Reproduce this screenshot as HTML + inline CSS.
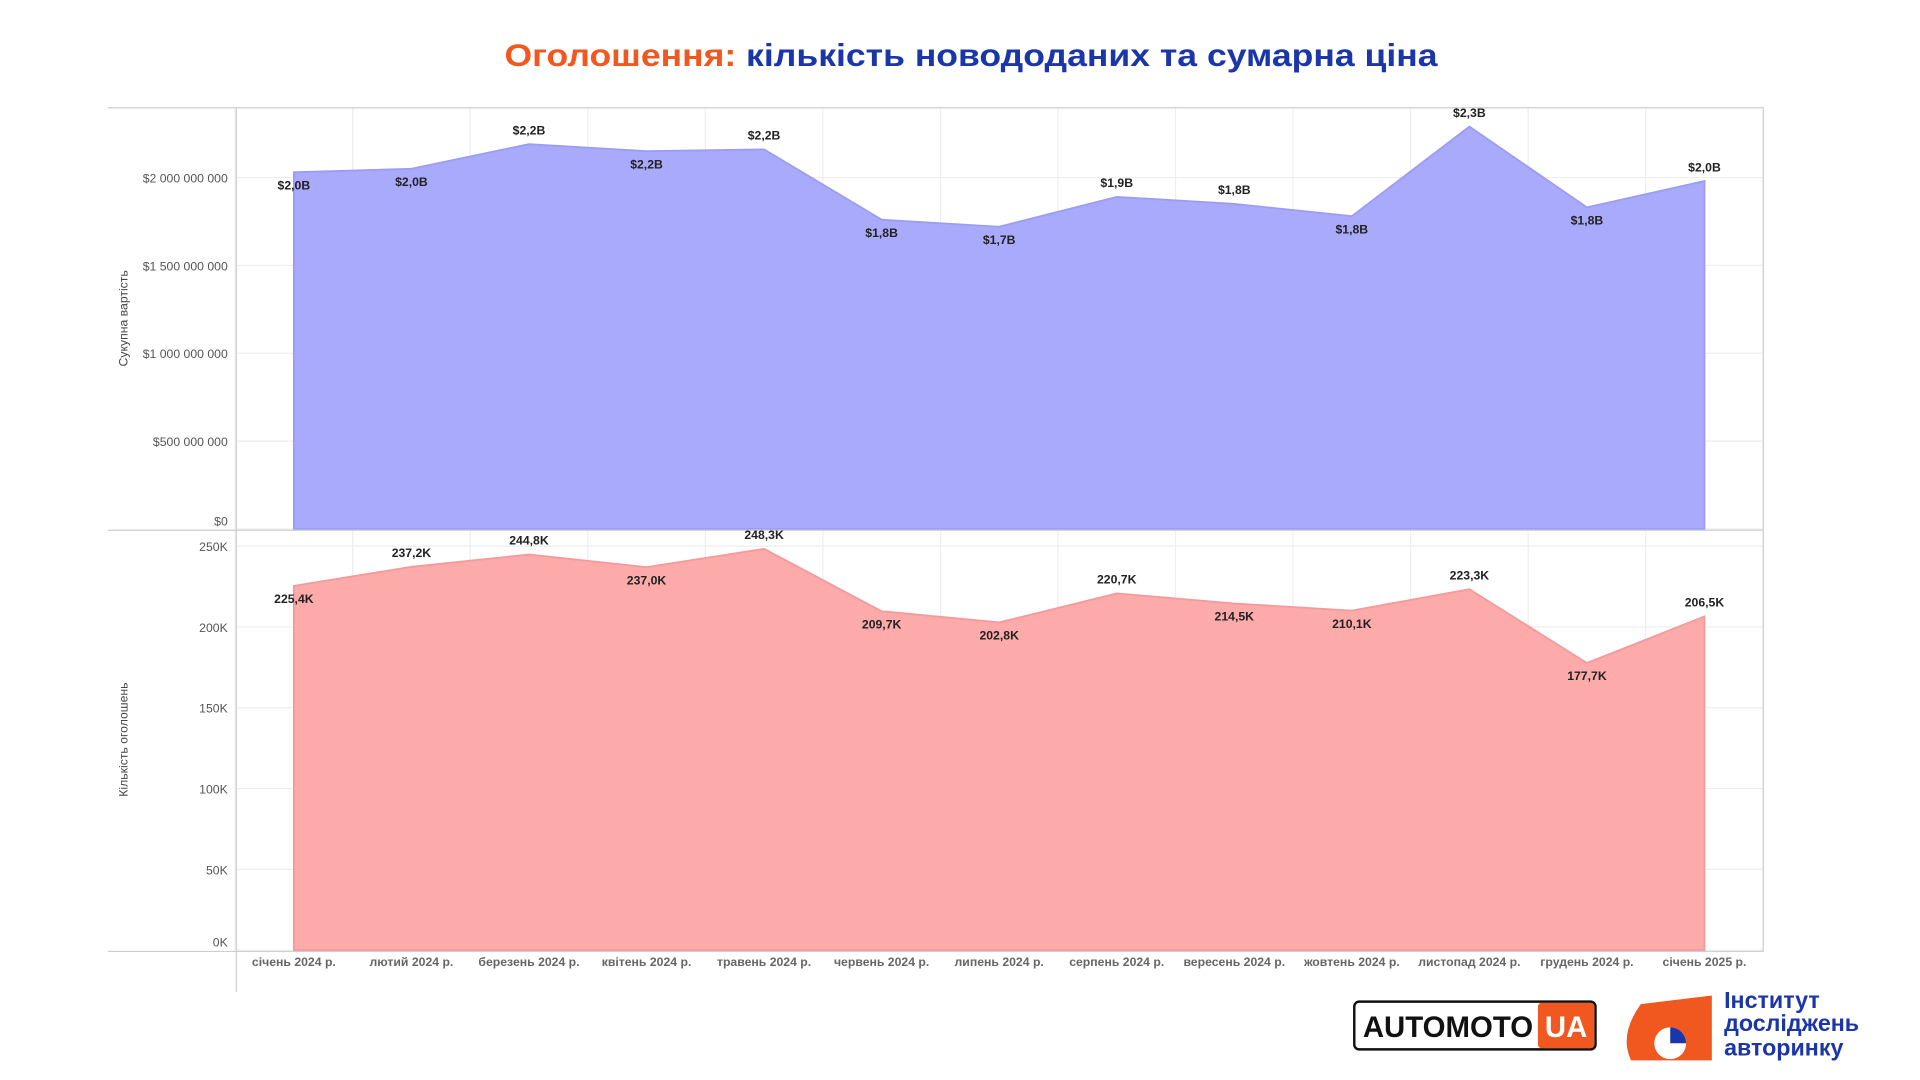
<!DOCTYPE html>
<html><head><meta charset="utf-8">
<style>
html,body{margin:0;padding:0;background:#fff;}
svg{display:block;font-family:"Liberation Sans","DejaVu Sans",sans-serif;}
</style></head>
<body>
<svg id="chart" width="1920" height="1080" viewBox="0 0 1568 882" xmlns="http://www.w3.org/2000/svg">
<text x="412" y="54" font-size="26" font-weight="bold" textLength="762" lengthAdjust="spacingAndGlyphs"><tspan fill="#f0581f">Оголошення:</tspan><tspan fill="#1b36a8"> кількість новододаних та сумарна ціна</tspan></text>
<g id="grid"></g>
<g id="areas"></g>
<g id="frame" stroke="#cfcfcf" stroke-width="1" fill="none">
<line x1="88" y1="88" x2="1440" y2="88"/>
<line x1="193" y1="88" x2="193" y2="810"/>
<line x1="1440" y1="88" x2="1440" y2="777"/>
<line x1="88" y1="433" x2="1440" y2="433"/>
<line x1="88" y1="777" x2="1440" y2="777"/>
</g>
<g id="labels"></g>
<text transform="translate(104,260) rotate(-90)" text-anchor="middle" font-size="10" fill="#444">Сукупна вартість</text>
<text transform="translate(104,604) rotate(-90)" text-anchor="middle" font-size="10" fill="#444">Кількість оголошень</text>
<g>
<rect x="1106" y="818" width="197" height="39" rx="4" fill="#fff" stroke="#111" stroke-width="2"/>
<rect x="1256" y="819" width="46" height="37" rx="3" fill="#f0581f"/>
<text x="1113" y="847" font-size="24" font-weight="bold" fill="#111">AUTOMOTO</text>
<text x="1279" y="847" font-size="24" font-weight="bold" fill="#fff" text-anchor="middle">UA</text>
</g>
<g>
<path d="M1340 820 L1398 813 L1398 866 L1332 866 Q1322 845 1340 820Z" fill="#f0581f"/>
<circle cx="1364" cy="852" r="13" fill="#fff"/>
<path d="M1364 852 L1364 839 A13 13 0 0 1 1377 852Z" fill="#1b36a8"/>
<text x="1408" y="823" font-size="19" font-weight="bold" fill="#1b36a8">Інститут</text>
<text x="1408" y="842" font-size="19" font-weight="bold" fill="#1b36a8">досліджень</text>
<text x="1408" y="862" font-size="19" font-weight="bold" fill="#1b36a8">авторинку</text>
</g>
</svg>
<script>
const months = ["січень 2024 р.","лютий 2024 р.","березень 2024 р.","квітень 2024 р.","травень 2024 р.","червень 2024 р.","липень 2024 р.","серпень 2024 р.","вересень 2024 р.","жовтень 2024 р.","листопад 2024 р.","грудень 2024 р.","січень 2025 р."];
const totalValue = [2.03,2.05,2.19,2.15,2.16,1.76,1.72,1.89,1.85,1.78,2.29,1.83,1.98];
const totalLabels = ["$2,0B","$2,0B","$2,2B","$2,2B","$2,2B","$1,8B","$1,7B","$1,9B","$1,8B","$1,8B","$2,3B","$1,8B","$2,0B"];
const totalLabelPos = ["b","b","a","b","a","b","b","a","a","b","a","b","a"];
const adCount = [225.4,237.2,244.8,237.0,248.3,209.7,202.8,220.7,214.5,210.1,223.3,177.7,206.5];
const adLabels = ["225,4K","237,2K","244,8K","237,0K","248,3K","209,7K","202,8K","220,7K","214,5K","210,1K","223,3K","177,7K","206,5K"];
const adLabelPos = ["b","a","a","b","a","b","b","a","b","b","a","b","a"];
const topTicks = [0,0.5,1,1.5,2];
const topTickLabels = ["$0","$500 000 000","$1 000 000 000","$1 500 000 000","$2 000 000 000"];
const botTicks = [0,50,100,150,200,250];
const botTickLabels = ["0K","50K","100K","150K","200K","250K"];

const NS="http://www.w3.org/2000/svg";
const xs = i => 240 + i*96;
const yTop = v => 432 - v/2*287;
const yBot = v => 776 - v/250*330;
function mk(tag, attrs, parent, txt){
  const e=document.createElementNS(NS,tag);
  for(const k in attrs) e.setAttribute(k,attrs[k]);
  if(txt!==undefined) e.textContent=txt;
  parent.appendChild(e); return e;
}
const grid=document.getElementById('grid'), areas=document.getElementById('areas'), labels=document.getElementById('labels');
for(let i=0;i<=months.length;i++){
  const l=mk('line',{x1:192+i*96,x2:192+i*96,y1:88,y2:777,stroke:'#eeeeee'},grid);
  
  
}
topTicks.forEach((t,i)=>{
  const y=yTop(t);
  const l=mk('line',{x1:193,x2:1440,y1:y,y2:y,stroke:'#eeeeee'},grid);
  
  
  const tx=mk('text',{x:186,y:Math.min(y+4,429),'text-anchor':'end','font-size':10,fill:'#555'},labels,topTickLabels[i]);
  
  
});
botTicks.forEach((t,i)=>{
  const y=yBot(t);
  const l=mk('line',{x1:193,x2:1440,y1:y,y2:y,stroke:'#eeeeee'},grid);
  
  
  const tx=mk('text',{x:186,y:t===0?y-3:y+4,'text-anchor':'end','font-size':10,fill:'#555'},labels,botTickLabels[i]);
  
  
});
function area(vals,yf,base,fill,stroke,name){
  let d=`M${xs(0)},${base}`;
  vals.forEach((v,i)=>{d+=` L${xs(i)},${yf(v)}`;});
  d+=` L${xs(vals.length-1)},${base} Z`;
  const p=mk('path',{d:d,fill:fill,stroke:stroke,'stroke-width':1.5},areas);
  
  
}
area(totalValue,yTop,432,'#aaaafc','#9c9cf4','total-value-area');
area(adCount,yBot,776,'#fdaaab','#f59a9c','ad-count-area');
totalValue.forEach((v,i)=>{
  const y=yTop(v)+(totalLabelPos[i]==='a'?-8:14);
  const t=mk('text',{x:xs(i),y:y,'text-anchor':'middle','font-size':10,'font-weight':'bold',fill:'#222'},labels,totalLabels[i]);
  
  
});
adCount.forEach((v,i)=>{
  const y=yBot(v)+(adLabelPos[i]==='a'?-8:14);
  const t=mk('text',{x:xs(i),y:y,'text-anchor':'middle','font-size':10,'font-weight':'bold',fill:'#222'},labels,adLabels[i]);
  
  
});
months.forEach((m,i)=>{
  const t=mk('text',{x:xs(i),y:789,'text-anchor':'middle','font-size':10,'font-weight':'bold',fill:'#666'},labels,m);
  
  
});
</script>
</body></html>
